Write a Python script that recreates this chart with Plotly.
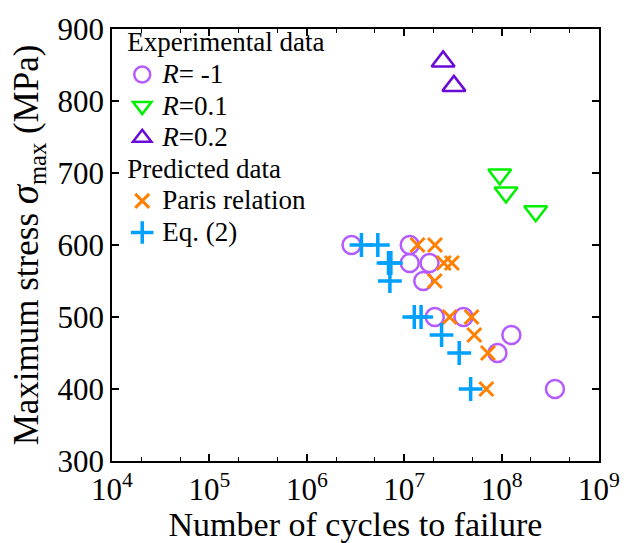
import plotly.graph_objects as go

# R = -1 experimental
r1_n = [2.88e6, 1.14e7, 1.14e7, 1.82e7, 1.57e7, 2.06e7, 4.06e7, 1.26e8, 9.07e7, 3.53e8]
r1_s = [600, 600, 575, 575, 550, 500, 500, 475, 450, 400]
# R = 0.1 experimental
r01_n = [9.57e7, 1.11e8, 2.24e8]
r01_s = [698, 673, 647]
# R = 0.2 experimental
r02_n = [2.51e7, 3.24e7]
r02_s = [855, 821]
# Paris relation predictions
paris_n = [1.37e7, 2.07e7, 2.55e7, 3.09e7, 2.06e7, 2.93e7, 4.92e7, 5.24e7, 7.24e7, 6.97e7]
paris_s = [600, 600, 575, 575, 550, 500, 500, 475, 450, 400]
# Eq. (2) predictions
eq2_n = [3.64e6, 5.36e6, 6.9e6, 7.3e6, 7.13e6, 1.27e7, 1.49e7, 2.42e7, 3.67e7, 4.81e7]
eq2_s = [600, 600, 575, 575, 550, 500, 500, 475, 450, 400]

xtick_vals = [1e4, 1e5, 1e6, 1e7, 1e8, 1e9]
xtick_text = ["10<sup>4</sup>", "10<sup>5</sup>", "10<sup>6</sup>", "10<sup>7</sup>", "10<sup>8</sup>", "10<sup>9</sup>"]
ytick_vals = [300, 400, 500, 600, 700, 800, 900]

FONT = "Liberation Serif"
LEG = 27  # rendered legend text size


def big(t):
    return '<span style="font-size:%dpx">%s</span>' % (LEG, t)


fig = go.Figure()
fig.add_trace(go.Scatter(x=r1_n, y=r1_s, mode="markers", name=big("<i>R</i>= -1"),
                         legendgroup="exp", legendgrouptitle_text=big("Experimental data"),
                         marker=dict(symbol="circle-open", size=18, color="#B45AFF", line=dict(width=2.5, color="#B45AFF"))))
fig.add_trace(go.Scatter(x=r01_n, y=r01_s, mode="markers", name=big("<i>R</i>=0.1"),
                         legendgroup="exp",
                         marker=dict(symbol="triangle-down-open", size=20, color="#00F000", line=dict(width=2.5, color="#00F000"))))
fig.add_trace(go.Scatter(x=r02_n, y=r02_s, mode="markers", name=big("<i>R</i>=0.2"),
                         legendgroup="exp",
                         marker=dict(symbol="triangle-up-open", size=20, color="#6A0AD8", line=dict(width=2.5, color="#6A0AD8"))))
fig.add_trace(go.Scatter(x=paris_n, y=paris_s, mode="markers", name=big("Paris relation"),
                         legendgroup="pred", legendgrouptitle_text=big("Predicted data"),
                         marker=dict(symbol="x-thin-open", size=14, color="#FF8000", line=dict(width=3, color="#FF8000"))))
fig.add_trace(go.Scatter(x=eq2_n, y=eq2_s, mode="markers", name=big("Eq. (2)"),
                         legendgroup="pred",
                         marker=dict(symbol="cross-thin-open", size=17, color="#00A0FF", line=dict(width=3.5, color="#00A0FF"))))

axis_common = dict(showline=True, linecolor="black", linewidth=1.5, mirror="ticks",
                   ticks="inside", ticklen=7, tickwidth=1.5, tickcolor="black",
                   showgrid=False, zeroline=False,
                   tickfont=dict(family=FONT, size=31, color="black"))

fig.update_xaxes(type="log", range=[4, 9], tickvals=xtick_vals, ticktext=xtick_text,
                 title=dict(text="Number of cycles to failure", font=dict(family=FONT, size=34, color="black"), standoff=0),
                 minor=dict(ticks="inside", ticklen=4, tickwidth=1.2, tickcolor="black", showgrid=False),
                 **axis_common)
fig.update_yaxes(range=[300, 900], tickvals=ytick_vals,
                 title=dict(text='Maximum stress <span style="font-size:39px"><i>σ</i></span><sub>max</sub> (MPa)',
                            font=dict(family=FONT, size=35, color="black"), standoff=8),
                 **axis_common)

fig.update_layout(
    width=632, height=543,
    margin=dict(l=112, r=23, t=21, b=80),
    plot_bgcolor="white", paper_bgcolor="white",
    font=dict(family=FONT, color="black"),
    legend=dict(x=0.021, y=1.016, xanchor="left", yanchor="top",
                bgcolor="rgba(0,0,0,0)", borderwidth=0,
                font=dict(family=FONT, size=22, color="black"),
                grouptitlefont=dict(family=FONT, size=22, color="black"),
                tracegroupgap=0, itemwidth=30, traceorder="grouped"),
)

fig.write_html("out.html")
